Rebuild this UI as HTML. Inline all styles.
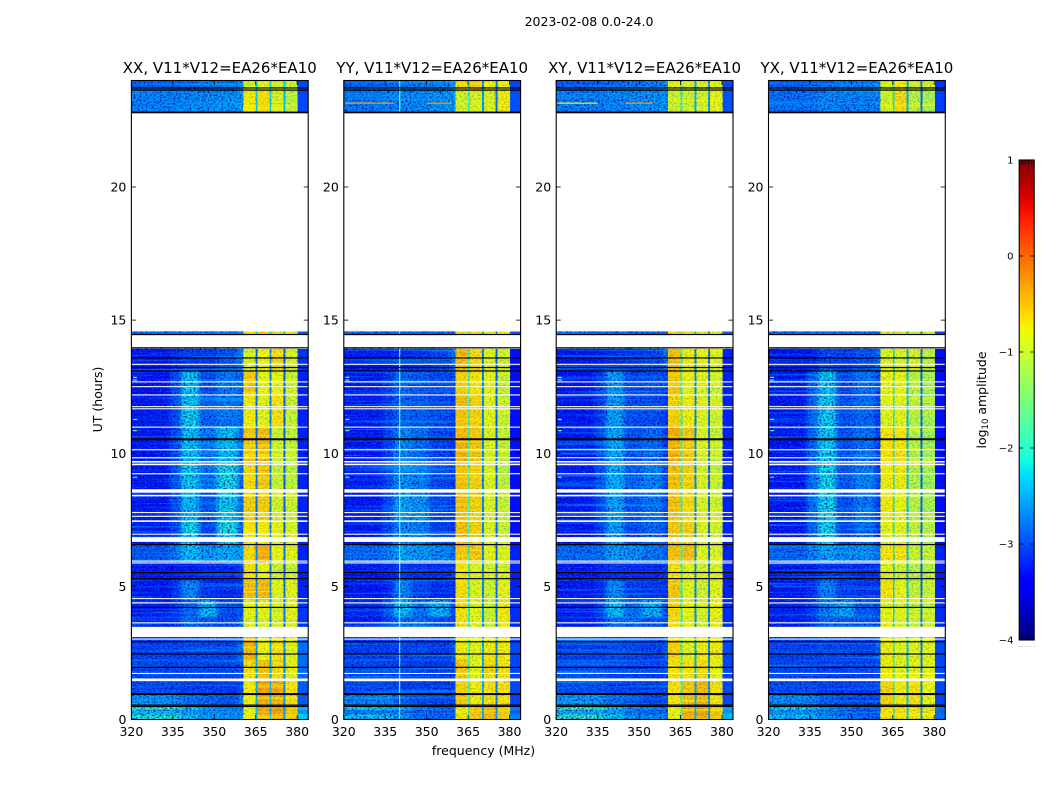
<!DOCTYPE html>
<html>
<head>
<meta charset="utf-8">
<title>2023-02-08 dynamic spectrum</title>
<style>
html,body{margin:0;padding:0;background:#fff;width:1050px;height:800px;overflow:hidden}
svg{display:block}
text{font-family:"DejaVu Sans","Liberation Sans",sans-serif;fill:#000}
</style>
</head>
<body>
<svg id="chart" xmlns="http://www.w3.org/2000/svg" width="1050" height="800" viewBox="0 0 1050 800">
  <defs>
    <linearGradient id="jet-gradient" x1="0" y1="1" x2="0" y2="0"></linearGradient>
    <filter id="soft-blur" x="-5%" y="-5%" width="110%" height="110%" color-interpolation-filters="sRGB">
      <feGaussianBlur stdDeviation="2.2 0.6"/>
    </filter>
    <filter id="grain-dark" filterUnits="objectBoundingBox" x="0" y="0" width="1" height="1" color-interpolation-filters="sRGB">
      <feTurbulence type="fractalNoise" baseFrequency="0.5 0.6" numOctaves="2" seed="4"/>
      <feColorMatrix type="matrix" values="0 0 0 0 0  0 0 0 0 0  0 0 0 0 0.65  2.6 0 0 0 -1.1"/>
    </filter>
    <filter id="grain-light" filterUnits="objectBoundingBox" x="0" y="0" width="1" height="1" color-interpolation-filters="sRGB">
      <feTurbulence type="fractalNoise" baseFrequency="0.55 0.6" numOctaves="2" seed="11"/>
      <feColorMatrix type="matrix" values="0 0 0 0 0  0 0 0 0 0.6  0 0 0 0 1  2 0 0 0 -1.05"/>
    </filter>
    <filter id="streak-low" filterUnits="objectBoundingBox" x="0" y="0" width="1" height="1" color-interpolation-filters="sRGB">
      <feTurbulence type="fractalNoise" baseFrequency="0.006 0.42" numOctaves="2" seed="7"/>
      <feColorMatrix type="matrix" values="0 0 0 0 0  0 0 0 0 0.7  0 0 0 0 1  1.8 0 0 0 -0.9"/>
    </filter>
    <filter id="streak-high" filterUnits="objectBoundingBox" x="0" y="0" width="1" height="1" color-interpolation-filters="sRGB">
      <feTurbulence type="fractalNoise" baseFrequency="0.006 0.42" numOctaves="2" seed="9"/>
      <feColorMatrix type="matrix" values="0 0 0 0 1  0 0 0 0 0.95  0 0 0 0 0  2.6 0 0 0 -1.2"/>
    </filter>
  </defs>
  <text x="589" y="26" font-size="12.5" text-anchor="middle">2023-02-08 0.0-24.0</text>
  <text x="483.5" y="755" font-size="12.5" text-anchor="middle">frequency (MHz)</text>
  <text x="0" y="0" font-size="12.5" text-anchor="middle" transform="translate(102,399.5) rotate(-90)">UT (hours)</text>
  <text x="0" y="0" font-size="12.5" text-anchor="middle" transform="translate(986,400) rotate(-90)">log<tspan font-size="8.5" dy="2">10</tspan><tspan dy="-2"> amplitude</tspan></text>
  <g id="panels"></g>
  <g id="colorbar"></g>
</svg>
<script>
// ---- chart data ----
const panelTitles = ["XX, V11*V12=EA26*EA10", "YY, V11*V12=EA26*EA10", "XY, V11*V12=EA26*EA10", "YX, V11*V12=EA26*EA10"];
const xTickValues = [320, 335, 350, 365, 380];
const yTickValues = [0, 5, 10, 15, 20];
const colorbarTickValues = [-4, -3, -2, -1, 0, 1];
const colorbarMinorTicks = [0, 0.2, 0.4, 0.6, 0.8, 1];
// frequency band edges in MHz (heatmap columns)
const bandEdges = [320, 334, 338, 344.5, 351, 358.5, 360.5, 365, 365.7, 370, 370.7, 375, 375.7, 380.2, 384];
// time blocks [start, end] in hours (heatmap rows)
const blockHours = [[24,23.6],[23.6,22.8],[14.57,14.45],[13.92,13.13],[13.13,12.17],[12.17,11],[11,9.55],[9.55,8.6],[8.6,7.48],[7.48,6.55],[6.55,5.9],[5.9,5.23],[5.23,4.48],[4.48,3.85],[3.85,3.47],[3.1,2.24],[2.24,1.48],[1.48,0.96],[0.96,0.54],[0.54,0.35],[0.35,0.2],[0.2,0]];
// log10 amplitude, one row per time block, one value per band
const xxValues = [
[-2.85,-2.85,-2.8,-2.75,-2.7,-2.6,-.95,-2.2,-.85,-2.2,-.95,-2.3,-1.0,-3.0],
[-2.65,-2.65,-2.6,-2.6,-2.55,-2.5,-.75,-2.3,-.65,-2.3,-.95,-2.4,-1.15,-3.0],
[-2.7,-2.7,-2.7,-2.7,-2.7,-2.7,-.7,-2.3,-.6,-2.3,-.7,-2.3,-.8,-2.9],
[-3.3,-3.2,-3.1,-3.1,-2.95,-2.6,-.95,-2.9,-.8,-2.6,-.65,-2.9,-.95,-3.1],
[-3.35,-3.0,-2.25,-2.95,-2.7,-2.8,-.55,-2.8,-.8,-2.7,-.8,-2.9,-1.0,-3.2],
[-3.3,-3.0,-2.2,-2.85,-2.7,-2.8,-.75,-2.8,-.85,-2.7,-.7,-2.9,-1.05,-3.2],
[-3.3,-3.0,-2.25,-2.7,-2.25,-2.8,-.55,-2.8,-.5,-2.7,-1.0,-2.9,-1.1,-3.2],
[-3.3,-2.95,-2.2,-2.75,-2.1,-2.8,-.65,-2.8,-.55,-2.7,-1.05,-2.9,-1.1,-3.2],
[-3.3,-2.95,-2.3,-2.9,-2.2,-2.8,-.6,-2.8,-.6,-2.7,-.95,-2.9,-1.0,-3.2],
[-3.3,-3.0,-2.15,-3.0,-2.1,-2.8,-.7,-2.8,-.75,-2.7,-.85,-2.9,-.95,-3.2],
[-2.9,-2.7,-2.3,-2.5,-2.4,-2.5,-.65,-2.7,-.4,-2.7,-.8,-2.8,-.85,-3.2],
[-3.3,-3.3,-3.3,-3.2,-3.2,-3.0,-.7,-2.7,-.8,-2.7,-1.0,-2.9,-1.0,-3.2],
[-3.3,-3.1,-2.6,-3.1,-3.2,-3.1,-.5,-2.6,-.45,-2.6,-.85,-2.8,-.85,-3.2],
[-3.25,-3.15,-2.85,-2.3,-2.95,-2.95,-.85,-2.6,-.85,-2.6,-.95,-2.8,-.9,-3.1],
[-3.2,-3.1,-2.75,-2.85,-2.95,-2.7,-.9,-2.6,-.85,-2.6,-.95,-2.8,-.9,-3.1],
[-3.05,-3.05,-3.0,-3.0,-3.0,-2.7,-.45,-2.6,-.8,-2.5,-.7,-2.7,-.85,-2.8],
[-3.0,-3.0,-3.0,-3.0,-3.0,-2.9,-.7,-2.5,-.55,-2.5,-.7,-2.7,-.8,-2.8],
[-3.0,-3.0,-3.05,-3.05,-3.05,-2.95,-.75,-2.5,-.3,-2.4,-.35,-2.6,-.7,-2.9],
[-2.55,-2.6,-2.75,-2.8,-2.9,-2.6,-.8,-2.5,-.35,-2.4,-.45,-2.6,-.7,-2.9],
[-2.0,-2.0,-2.2,-2.5,-2.6,-2.6,-.85,-2.4,-.35,-2.4,-.3,-2.6,-.55,-2.4],
[-2.35,-2.35,-2.5,-2.65,-2.65,-2.65,-.85,-2.4,-.4,-2.4,-.3,-2.6,-.55,-2.6],
[-2.0,-2.05,-2.25,-2.45,-2.5,-2.6,-.85,-2.4,-.35,-2.4,-.3,-2.6,-.55,-2.3]];
const yyValues = [
[-2.85,-2.8,-2.75,-2.7,-2.65,-2.5,-.65,-1.9,-.6,-2.6,-.8,-2.8,-.8,-3.0],
[-2.7,-2.65,-2.6,-2.6,-2.55,-2.5,-.95,-1.9,-.9,-2.6,-.9,-2.8,-.75,-2.95],
[-2.75,-2.75,-2.75,-2.75,-2.75,-2.75,-.65,-2.0,-.7,-2.4,-.75,-2.6,-.8,-2.9],
[-3.3,-3.25,-3.15,-3.1,-3.0,-2.7,-.45,-2.0,-.65,-2.7,-.85,-2.9,-.95,-3.3],
[-3.3,-3.1,-2.8,-2.9,-3.0,-3.0,-.6,-1.9,-.7,-2.7,-.85,-2.9,-1.05,-3.3],
[-3.3,-3.1,-2.85,-2.9,-3.0,-3.1,-.5,-1.9,-.6,-2.7,-.85,-2.9,-1.0,-3.3],
[-3.3,-3.05,-2.6,-2.75,-3.0,-3.1,-.45,-1.9,-.55,-2.7,-.9,-2.9,-1.05,-3.3],
[-3.25,-3.0,-2.55,-2.65,-3.0,-3.1,-.5,-1.9,-.6,-2.7,-.9,-2.9,-1.1,-3.3],
[-3.3,-3.0,-2.45,-2.55,-3.0,-3.1,-.5,-1.9,-.6,-2.7,-.9,-2.9,-1.05,-3.3],
[-3.3,-3.05,-2.6,-2.65,-3.05,-3.1,-.5,-1.9,-.6,-2.7,-.9,-2.9,-1.05,-3.3],
[-2.8,-2.7,-2.45,-2.5,-2.6,-2.8,-.55,-1.95,-.55,-2.7,-.85,-2.9,-.9,-3.2],
[-3.3,-3.25,-3.1,-3.15,-3.2,-3.1,-.7,-2.1,-.9,-2.7,-.95,-2.85,-.95,-3.2],
[-3.3,-3.2,-2.65,-3.0,-3.15,-3.15,-.65,-2.1,-.9,-2.7,-1.0,-2.8,-.85,-3.2],
[-3.2,-2.9,-2.3,-2.7,-2.35,-3.0,-.7,-2.1,-.85,-2.65,-1.0,-2.8,-.75,-3.15],
[-3.25,-3.0,-2.8,-2.75,-2.95,-3.0,-.7,-2.1,-.85,-2.65,-1.0,-2.8,-.75,-3.15],
[-3.05,-3.05,-3.0,-3.0,-3.05,-2.9,-.75,-1.8,-.85,-2.5,-.75,-2.7,-.75,-3.0],
[-3.0,-3.0,-3.05,-3.05,-3.05,-3.0,-.55,-1.8,-.85,-2.5,-.65,-2.7,-.7,-3.0],
[-3.0,-3.0,-3.05,-3.05,-3.05,-3.0,-.6,-1.8,-.75,-2.5,-.7,-2.7,-.7,-3.0],
[-2.65,-2.6,-2.85,-2.95,-3.0,-3.0,-.6,-1.8,-.75,-2.5,-.7,-2.7,-.7,-3.0],
[-2.2,-2.25,-2.45,-2.75,-2.85,-2.85,-.75,-1.9,-.55,-2.5,-.5,-2.6,-.6,-2.7],
[-2.65,-2.65,-2.7,-2.85,-2.9,-2.9,-.75,-1.9,-.55,-2.5,-.5,-2.6,-.6,-2.85],
[-2.25,-2.3,-2.5,-2.75,-2.8,-2.85,-.75,-1.9,-.55,-2.5,-.5,-2.6,-.6,-2.7]];
const xyValues = [
[-2.85,-2.8,-2.75,-2.7,-2.65,-2.5,-.85,-2.0,-.95,-2.5,-.9,-2.6,-.85,-3.0],
[-2.65,-2.65,-2.6,-2.6,-2.55,-2.5,-1.0,-2.0,-1.0,-2.5,-.95,-2.6,-.85,-2.95],
[-2.75,-2.75,-2.75,-2.75,-2.75,-2.75,-.65,-2.0,-.7,-2.4,-.75,-2.6,-.8,-2.9],
[-3.3,-3.25,-3.15,-3.1,-3.0,-2.7,-.5,-2.1,-.75,-2.7,-.85,-2.8,-.9,-3.2],
[-3.3,-3.05,-2.5,-3.0,-2.95,-3.0,-.55,-2.0,-.8,-2.7,-.85,-2.8,-1.0,-3.2],
[-3.3,-3.05,-2.45,-2.95,-2.95,-3.1,-.6,-2.0,-.75,-2.7,-.9,-2.8,-1.0,-3.2],
[-3.3,-3.0,-2.4,-2.95,-2.8,-3.1,-.4,-2.0,-.55,-2.7,-.9,-2.85,-1.05,-3.2],
[-3.25,-2.95,-2.35,-2.85,-2.65,-3.0,-.5,-2.0,-.6,-2.7,-.9,-2.85,-1.05,-3.2],
[-3.3,-3.0,-2.45,-2.95,-2.75,-3.05,-.5,-2.0,-.65,-2.7,-.9,-2.85,-1.0,-3.2],
[-3.3,-3.05,-2.45,-3.0,-2.8,-3.05,-.55,-2.0,-.6,-2.7,-.9,-2.85,-1.0,-3.2],
[-2.8,-2.75,-2.5,-2.55,-2.7,-2.85,-.5,-2.0,-.5,-2.7,-.85,-2.85,-.9,-3.2],
[-3.3,-3.25,-3.15,-3.2,-3.2,-3.1,-.7,-2.1,-.85,-2.7,-.95,-2.8,-.95,-3.2],
[-3.3,-3.2,-2.6,-3.05,-3.1,-3.15,-.55,-2.1,-.85,-2.7,-.95,-2.8,-.85,-3.2],
[-3.25,-3.0,-2.25,-2.75,-2.35,-3.0,-.65,-2.1,-.8,-2.65,-.95,-2.75,-.8,-3.15],
[-3.25,-3.1,-2.75,-2.8,-2.9,-3.0,-.7,-2.1,-.8,-2.65,-.95,-2.75,-.8,-3.15],
[-3.05,-3.05,-3.0,-3.0,-3.05,-2.85,-.6,-1.9,-.85,-2.5,-.75,-2.7,-.75,-3.0],
[-3.0,-3.0,-3.05,-3.05,-3.05,-2.95,-.7,-1.9,-.7,-2.5,-.65,-2.7,-.8,-3.0],
[-2.95,-2.95,-3.05,-3.05,-3.05,-2.95,-.7,-1.9,-.55,-2.5,-.45,-2.6,-.7,-3.0],
[-2.5,-2.55,-2.75,-2.85,-3.0,-2.95,-.7,-1.9,-.55,-2.5,-.45,-2.6,-.7,-3.0],
[-1.9,-1.95,-2.2,-2.5,-2.6,-2.7,-.8,-2.0,-.4,-2.4,-.35,-2.6,-.55,-2.5],
[-2.35,-2.4,-2.5,-2.7,-2.8,-2.8,-.8,-2.0,-.4,-2.4,-.35,-2.6,-.55,-2.6],
[-1.9,-2.0,-2.25,-2.5,-2.6,-2.7,-.8,-2.0,-.4,-2.4,-.35,-2.6,-.55,-2.4]];
const yxValues = [
[-2.85,-2.8,-2.75,-2.7,-2.7,-2.55,-1.0,-2.2,-.75,-2.5,-1.05,-2.8,-1.05,-3.1],
[-2.75,-2.7,-2.6,-2.65,-2.65,-2.6,-.95,-2.2,-.65,-2.5,-1.1,-2.8,-1.2,-3.05],
[-2.75,-2.75,-2.75,-2.75,-2.75,-2.75,-.85,-2.2,-.75,-2.4,-1.0,-2.7,-1.0,-3.0],
[-3.3,-3.25,-3.0,-3.05,-2.95,-2.75,-.95,-2.3,-.9,-2.5,-.95,-2.85,-1.15,-3.3],
[-3.3,-2.85,-2.25,-3.0,-2.75,-3.0,-.8,-2.2,-.8,-2.4,-1.1,-2.85,-1.25,-3.3],
[-3.3,-2.8,-2.2,-2.95,-2.8,-3.1,-.9,-2.2,-.85,-2.4,-1.15,-2.85,-1.25,-3.3],
[-3.3,-2.8,-2.2,-2.95,-2.75,-3.1,-.7,-2.2,-.7,-2.4,-1.15,-2.85,-1.3,-3.3],
[-3.3,-2.75,-2.15,-2.9,-2.65,-3.1,-.75,-2.2,-.75,-2.4,-1.15,-2.85,-1.3,-3.3],
[-3.3,-2.75,-2.15,-2.95,-2.7,-3.1,-.75,-2.2,-.8,-2.4,-1.15,-2.85,-1.25,-3.3],
[-3.3,-2.8,-2.15,-3.0,-2.75,-3.1,-.85,-2.2,-.85,-2.4,-1.1,-2.85,-1.2,-3.3],
[-2.85,-2.65,-2.45,-2.55,-2.55,-2.8,-.7,-2.2,-.7,-2.4,-1.05,-2.85,-1.1,-3.2],
[-3.3,-3.3,-3.15,-3.15,-3.2,-3.1,-.85,-2.3,-.95,-2.4,-1.1,-2.8,-1.1,-3.2],
[-3.3,-3.15,-2.65,-3.05,-3.1,-3.15,-.7,-2.3,-.8,-2.4,-1.1,-2.8,-1.05,-3.2],
[-3.25,-3.05,-2.65,-2.45,-2.85,-3.0,-.85,-2.3,-.9,-2.4,-1.05,-2.75,-1.05,-3.15],
[-3.25,-3.1,-2.8,-2.85,-2.9,-3.0,-.85,-2.3,-.9,-2.4,-1.05,-2.75,-1.05,-3.15],
[-3.05,-3.05,-3.0,-3.0,-3.05,-2.85,-.75,-2.1,-.85,-2.35,-.85,-2.7,-.85,-3.0],
[-3.0,-3.0,-3.05,-3.05,-3.05,-3.0,-.75,-2.1,-.85,-2.35,-.8,-2.7,-.85,-3.0],
[-3.0,-3.0,-3.05,-3.05,-3.05,-3.0,-.6,-2.1,-.75,-2.35,-.7,-2.65,-.8,-3.0],
[-2.6,-2.65,-2.85,-2.95,-3.0,-2.95,-.6,-2.1,-.75,-2.35,-.7,-2.65,-.8,-3.0],
[-2.2,-2.25,-2.5,-2.7,-2.8,-2.8,-.7,-2.1,-.7,-2.3,-.7,-2.6,-.75,-2.75],
[-2.6,-2.65,-2.7,-2.8,-2.85,-2.85,-.7,-2.1,-.7,-2.3,-.7,-2.6,-.75,-2.85],
[-2.3,-2.35,-2.55,-2.7,-2.8,-2.8,-.7,-2.1,-.7,-2.3,-.7,-2.6,-.75,-2.8]];
const panelValues = [xxValues, yyValues, xyValues, yxValues];
// flagged (blank) time ranges, hours [start, end]
const flaggedHours = [[13.36,13.32],[12.70,12.66],[12.52,12.48],[12.21,12.17],[11.77,11.73],[11.69,11.65],[11.0,10.96],[10.15,10.11],[9.85,9.81],[9.71,9.65],[9.61,9.55],[9.25,9.21],[8.65,8.52],[8.44,8.38],[7.79,7.75],[7.65,7.61],[7.48,7.42],[6.98,6.94],[6.85,6.67],[5.97,5.93],[5.90,5.86],[4.56,4.52],[4.40,4.36],[3.65,3.61],[3.48,3.10],[3.04,3.0],[1.75,1.71],[1.54,1.44]];
// rows where the amplitude drops to zero (black lines), hours
const darkHours = [23.72,23.64,22.81,22.79,14.46,13.96,13.58,13.22,13.09,10.54,10.51,6.57,5.52,5.29,4.21,2.92,2.46,1.96,0.97,0.94,0.54,0.49];
// narrow interference features: [panel, hour, fromMHz, toMHz, log10 amplitude]
const rfiRows = [[1,23.15,320.5,338,-0.3],[1,23.15,350,359,-0.25],[2,23.15,320.5,335,-0.7],[2,23.15,345,355,-0.3],
[0,12.85,320.6,322,-1.4],[0,12.75,320.6,322,-1.4],[0,11.27,320.6,322,-1.5],[0,10.85,320.6,322,-1.4],[0,9.1,320.6,322,-1.7],
[1,12.85,320.6,322,-1.4],[1,12.75,320.6,322,-1.4],[1,11.27,320.6,322,-1.5],[1,10.85,320.6,322,-1.4],[1,9.1,320.6,322,-1.7],
[2,12.85,320.6,322,-1.4],[2,12.75,320.6,322,-1.4],[2,11.27,320.6,322,-1.5],[2,10.85,320.6,322,-1.4],[2,9.1,320.6,322,-1.7],
[3,12.85,320.6,322,-1.7],[3,12.75,320.6,322,-1.7],[3,11.27,320.6,322,-1.7],[3,10.85,320.6,322,-1.7],[3,9.1,320.6,322,-1.9]];
// narrow vertical interference: [panel, MHz, log10 amplitude]
const rfiColumns = [[1,340,-1.7]];

// ---- axes ----
const panelLefts = [131.4, 343.8, 556.2, 768.5];
const panelWidth = 176.8;
const plotTop = 80.5, plotBottom = 719.5, cbLeft = 1019.2, cbRight = 1034.2, cbTop = 160, cbBottom = 640;
function xScale(p, mhz) { return panelLefts[p] + (mhz - 320) / 64 * panelWidth; }
function yScale(h) { return plotBottom - h / 24 * (plotBottom - plotTop); }
function cbScale(v) { return cbBottom - (v + 4) / 5 * (cbBottom - cbTop); }
function piece(pts, t) {
  for (let i = 1; i < pts.length; i++) {
    if (t <= pts[i][0]) {
      const a = pts[i - 1], b = pts[i];
      return a[1] + (b[1] - a[1]) * (t - a[0]) / (b[0] - a[0]);
    }
  }
  return pts[pts.length - 1][1];
}
function jet(v) {
  const t = Math.max(0, Math.min(1, (v + 4) / 5));
  const r = piece([[0,0],[.35,0],[.66,1],[.89,1],[1,.5]], t);
  const g = piece([[0,0],[.125,0],[.375,1],[.64,1],[.91,0],[1,0]], t);
  const b = piece([[0,.5],[.11,1],[.34,1],[.65,0],[1,0]], t);
  return 'rgb(' + Math.round(r * 255) + ',' + Math.round(g * 255) + ',' + Math.round(b * 255) + ')';
}
const NS = 'http://www.w3.org/2000/svg';
function make(tag, attrs, parent) {
  const el = document.createElementNS(NS, tag);
  for (const k in attrs) el.setAttribute(k, attrs[k]);
  parent.appendChild(el);
  return el;
}
const panelsRoot = document.getElementById('panels');
const defs = document.querySelector('defs');

panelTitles.forEach(function (title, p) {
  const left = panelLefts[p];
  const group = make('g', {}, panelsRoot);
  
  

  const clip = make('clipPath', { id: 'clip-' + p }, defs);
  make('rect', { x: left, y: plotTop, width: panelWidth, height: plotBottom - plotTop }, clip);

  const heat = make('g', { 'clip-path': 'url(#clip-' + p + ')' }, group);
  
  

  const sharp = make('g', { 'shape-rendering': 'crispEdges' }, heat);
  const soft = make('g', { filter: 'url(#soft-blur)' }, heat);
  const grainLow = make('g', {}, heat);
  const upper = make('g', { 'shape-rendering': 'crispEdges' }, heat);
  const grainHigh = make('g', { opacity: 0.3 }, heat);
  const streakHigh = make('g', { opacity: 0.75 }, heat);

  blockHours.forEach(function (block, r) {
    const y0 = yScale(block[0]), y1 = yScale(block[1]);
    panelValues[p][r].forEach(function (v, b) {
      const x0 = xScale(p, bandEdges[b]), x1 = xScale(p, bandEdges[b + 1]);
      const cell = make('rect', { x: x0, y: y0, width: x1 - x0, height: y1 - y0, fill: jet(v) }, sharp);
      
      
      if (b < 6) {
        const blurred = make('rect', { x: x0, y: y0, width: x1 - x0, height: y1 - y0, fill: jet(v) }, soft);
        
        
      } else {
        const top = make('rect', { x: x0, y: y0, width: x1 - x0, height: y1 - y0, fill: jet(v) }, upper);
        
        
      }
    });
    const lowX = xScale(p, bandEdges[0]), lowW = xScale(p, bandEdges[6]) - lowX;
    const g1 = make('rect', { x: lowX, y: y0, width: lowW, height: y1 - y0, filter: 'url(#grain-dark)' }, grainLow);
    
    
    const g2 = make('rect', { x: lowX, y: y0, width: lowW, height: y1 - y0, filter: 'url(#grain-light)' }, grainLow);
    
    
    const g4 = make('rect', { x: lowX, y: y0, width: lowW, height: y1 - y0, filter: 'url(#streak-low)' }, grainLow);
    
    
    const highX = xScale(p, bandEdges[6]), highW = xScale(p, bandEdges[13]) - highX;
    const g3 = make('rect', { x: highX, y: y0, width: xScale(p, bandEdges[14]) - highX, height: y1 - y0, filter: 'url(#grain-dark)' }, grainHigh);
    
    
    // yellow row-wise streaks lie on the passband segments between the notches
    [6, 8, 10, 12].forEach(function (b) {
      const sx = xScale(p, bandEdges[b]);
      const s = make('rect', { x: sx, y: y0, width: xScale(p, bandEdges[b + 1]) - sx, height: y1 - y0, filter: 'url(#streak-high)' }, streakHigh);
      
      
    });
  });

  rfiColumns.filter(function (c) { return c[0] === p; }).forEach(function (c) {
    blockHours.forEach(function (block) {
      const line = make('rect', { x: xScale(p, c[1]), y: yScale(block[0]), width: 1.2, height: yScale(block[1]) - yScale(block[0]), fill: jet(c[2]) }, heat);
      
      
    });
  });
  rfiRows.filter(function (c) { return c[0] === p; }).forEach(function (c) {
    const line = make('rect', { x: xScale(p, c[2]), y: yScale(c[1]) - 0.6, width: xScale(p, c[3]) - xScale(p, c[2]), height: 1.2, fill: jet(c[4]) }, heat);
    
    
  });

  flaggedHours.forEach(function (f) {
    const row = make('rect', { x: left, y: yScale(f[0]), width: panelWidth, height: yScale(f[1]) - yScale(f[0]), fill: '#fff' }, heat);
    
    
  });
  darkHours.forEach(function (h) {
    const row = make('rect', { x: left, y: yScale(h) - 0.6, width: panelWidth, height: 1.2, fill: '#000' }, heat);
    
    
  });

  const frame = make('rect', { x: left, y: plotTop, width: panelWidth, height: plotBottom - plotTop, fill: 'none', stroke: '#000', 'stroke-width': 1.1 }, group);
  
  

  xTickValues.forEach(function (t) {
    const x = xScale(p, t);
    const bottomTick = make('line', { x1: x, x2: x, y1: plotBottom, y2: plotBottom - 4.5, stroke: '#000', 'stroke-width': 0.8 }, group);
    
    
    const topTick = make('line', { x1: x, x2: x, y1: plotTop, y2: plotTop + 4.5, stroke: '#000', 'stroke-width': 0.8 }, group);
    
    
    const label = make('text', { x: x, y: 736, 'font-size': 12.5, 'text-anchor': 'middle' }, group);
    
    
    label.textContent = String(t);
  });
  yTickValues.forEach(function (t) {
    const y = yScale(t);
    const leftTick = make('line', { x1: left, x2: left + 4.5, y1: y, y2: y, stroke: '#000', 'stroke-width': 0.8 }, group);
    
    
    const rightTick = make('line', { x1: left + panelWidth, x2: left + panelWidth - 4.5, y1: y, y2: y, stroke: '#000', 'stroke-width': 0.8 }, group);
    
    
    const label = make('text', { x: left - 5, y: y + 4.5, 'font-size': 12.5, 'text-anchor': 'end' }, group);
    
    
    label.textContent = String(t);
  });

  const titleEl = make('text', { x: left + panelWidth / 2, y: 73, 'font-size': 15, 'text-anchor': 'middle' }, group);
  
  
  titleEl.textContent = title;
});

// ---- colorbar ----
const grad = document.getElementById('jet-gradient');
for (let i = 0; i <= 40; i++) {
  make('stop', { offset: (i / 40), 'stop-color': jet(-4 + 5 * i / 40) }, grad);
}
const cbRoot = document.getElementById('colorbar');
const cbFill = make('rect', { x: cbLeft, y: cbTop, width: cbRight - cbLeft, height: cbBottom - cbTop, fill: 'url(#jet-gradient)' }, cbRoot);


const cbFrame = make('rect', { x: cbLeft, y: cbTop, width: cbRight - cbLeft, height: cbBottom - cbTop, fill: 'none', stroke: '#000', 'stroke-width': 1.1 }, cbRoot);


colorbarTickValues.forEach(function (t) {
  const y = cbScale(t);
  const a = make('line', { x1: cbLeft, x2: cbLeft + 4, y1: y, y2: y, stroke: '#000', 'stroke-width': 0.8 }, cbRoot);
  
  
  const b = make('line', { x1: cbRight, x2: cbRight - 4, y1: y, y2: y, stroke: '#000', 'stroke-width': 0.8 }, cbRoot);
  
  
  const label = make('text', { x: 1013.5, y: y + 3.5, 'font-size': 10, 'text-anchor': 'end' }, cbRoot);
  
  
  label.textContent = String(t).replace('-', '\u2212');
});
colorbarMinorTicks.forEach(function (t) {
  const x = cbLeft + t * (cbRight - cbLeft);
  const a = make('line', { x1: x, x2: x, y1: cbBottom, y2: cbBottom - 4.5, stroke: '#000', 'stroke-width': 0.8 }, cbRoot);
  
  
  const b = make('line', { x1: x, x2: x, y1: cbTop, y2: cbTop + 4.5, stroke: '#000', 'stroke-width': 0.8 }, cbRoot);
  
  
  const dot = make('text', { x: x, y: 647, 'font-size': 6, 'text-anchor': 'middle', style: 'fill:#555' }, cbRoot);
  
  
  dot.textContent = '.';
});
</script>
</body>
</html>
